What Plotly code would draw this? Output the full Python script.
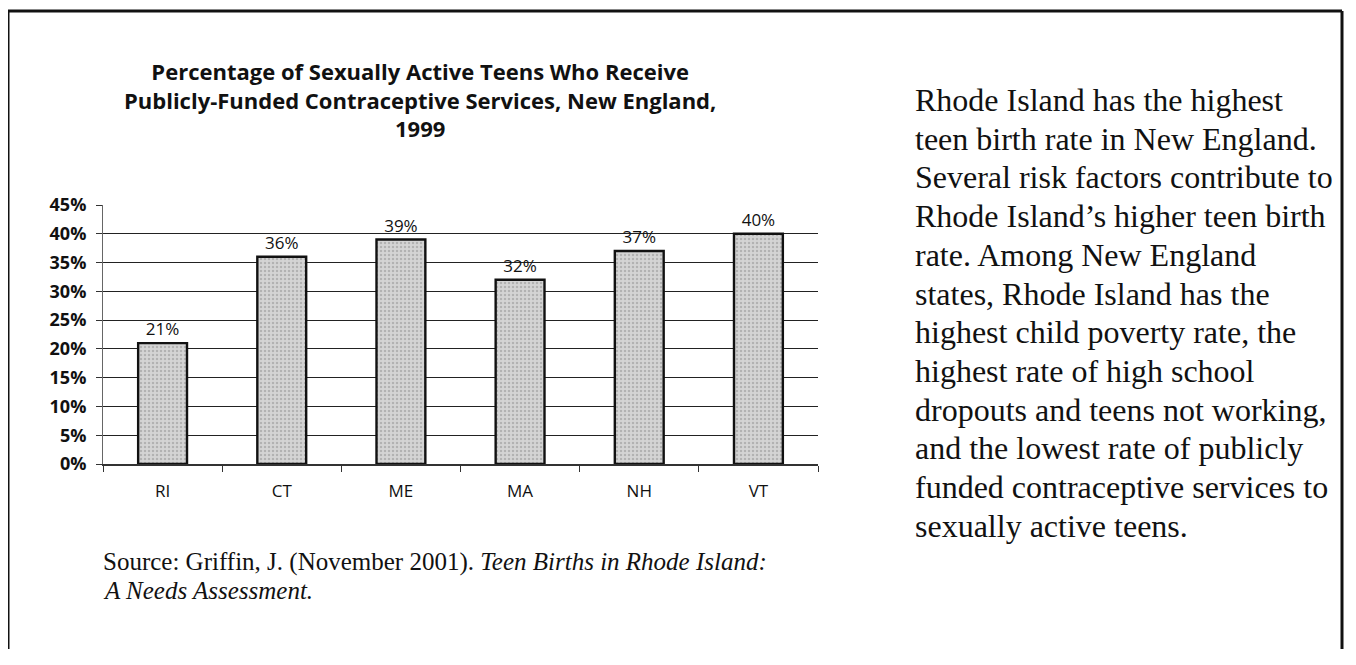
import plotly.graph_objects as go

states = ["RI", "CT", "ME", "MA", "NH", "VT"]
pct = [21, 36, 39, 32, 37, 40]
pct_labels = ["21%", "36%", "39%", "32%", "37%", "40%"]
y_ticks = [0, 5, 10, 15, 20, 25, 30, 35, 40, 45]
y_tick_labels = ["0%", "5%", "10%", "15%", "20%", "25%", "30%", "35%", "40%", "45%"]

title_lines = [
    "Percentage of Sexually Active Teens Who Receive",
    "Publicly-Funded Contraceptive Services, New England,",
    "1999",
]
side_text = [
    "Rhode Island has the highest",
    "teen birth rate in New England.",
    "Several risk factors contribute to",
    "Rhode Island\u2019s higher teen birth",
    "rate. Among New England",
    "states, Rhode Island has the",
    "highest child poverty rate, the",
    "highest rate of high school",
    "dropouts and teens not working,",
    "and the lowest rate of publicly",
    "funded contraceptive services to",
    "sexually active teens.",
]

OFF = 8  # default page margin of the html body
W, H = 1356 - 2 * OFF - 4, 665 - 2 * OFF - 8
L, R, T, B = 103 - OFF, 818 - OFF, 205 - OFF, 464 - OFF


def px(x):
    return (x - OFF - L) / (R - L)


def py(y):
    return (B - (y - OFF)) / (B - T)


SANS = "Open Sans, Lato, sans-serif"
SERIF = "Liberation Serif, serif"

fig = go.Figure()
fig.add_trace(go.Bar(
    x=states, y=pct, text=pct_labels, textposition="outside",
    textfont=dict(family=SANS, size=17, color="#111"),
    marker=dict(color="#c6c6c6", line=dict(color="#111", width=2.4),
                pattern=dict(shape=".", fgcolor="#8f8f8f", bgcolor="#d4d4d4", size=4, solidity=0.3)),
    width=0.41, cliponaxis=False, showlegend=False,
))

fig.update_layout(
    width=W, height=H,
    margin=dict(l=L, r=W - R, t=T, b=H - B),
    paper_bgcolor="white", plot_bgcolor="white",
    font=dict(family=SANS, color="#111"),
    xaxis=dict(showgrid=False, showline=True, linecolor="#333", linewidth=1.5,
               ticks="outside", ticklen=6, tickcolor="#333", tickson="boundaries",
               tickfont=dict(size=17, color="#111"), range=[-0.5, 5.5], fixedrange=True,
               ticklabelstandoff=11),
    yaxis=dict(range=[0, 45], tickvals=y_ticks, ticktext=y_tick_labels,
               showgrid=True, gridcolor="#222", gridwidth=1.3,
               showline=True, linecolor="#666", linewidth=1,
               ticks="outside", ticklen=6, tickcolor="#333",
               tickfont=dict(size=18, color="#111", family=SANS, weight="bold"),
               ticklabelstandoff=6,
               zeroline=False, fixedrange=True),
)

# title (one multi-line text)
fig.add_annotation(x=px(420), y=py(100), xref="paper", yref="paper",
                   text="<br>".join("<b>" + s + "</b>" for s in title_lines),
                   showarrow=False, xanchor="center", yanchor="middle", align="center",
                   font=dict(family=SANS, size=22, color="#111"))

# side text
for i, line in enumerate(side_text):
    fig.add_annotation(x=px(913), y=py(100 + i * 38.7), xref="paper", yref="paper",
                       text=line, showarrow=False, xanchor="left", yanchor="middle",
                       font=dict(family=SERIF, size=32, color="#111"))

# source
fig.add_annotation(x=px(101), y=py(562), xref="paper", yref="paper",
                   text="Source: Griffin, J. (November 2001). <i>Teen Births in Rhode Island:</i>",
                   showarrow=False, xanchor="left", yanchor="middle",
                   font=dict(family=SERIF, size=25, color="#111"))
fig.add_annotation(x=px(101), y=py(590), xref="paper", yref="paper",
                   text="<i>A Needs Assessment.</i>",
                   showarrow=False, xanchor="left", yanchor="middle",
                   font=dict(family=SERIF, size=25, color="#111"))

# outer border
border = dict(color="#111", width=3)
fig.add_shape(type="line", xref="paper", yref="paper", x0=px(8), x1=px(1342), y0=py(11), y1=py(11), line=border)
fig.add_shape(type="line", xref="paper", yref="paper", x0=px(8), x1=px(8), y0=py(11), y1=py(680), line=border)
fig.add_shape(type="line", xref="paper", yref="paper", x0=px(1342), x1=px(1342), y0=py(11), y1=py(680), line=border)

fig.write_html("out.html")
